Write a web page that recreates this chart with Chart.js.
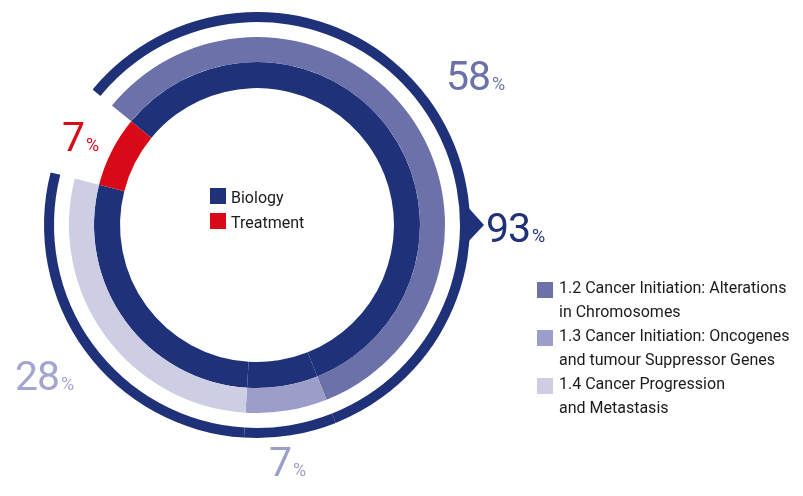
<!DOCTYPE html>
<html>
<head>
<meta charset="utf-8">
<script src="https://cdn.jsdelivr.net/npm/chart.js@4.4.1/dist/chart.umd.min.js"></script>
<style>
  html, body { margin: 0; padding: 0; background: #fff; }
  body { width: 803px; height: 496px; position: relative; overflow: hidden; font-family: Roboto, "Noto Sans", sans-serif; }
  #wrap { position: absolute; left: 0; top: 0; width: 803px; height: 496px; }
  .pct { position: absolute; font-weight: 400; font-size: 41px; line-height: 1; white-space: nowrap; letter-spacing: -1px; }
  .pct small { font-size: 18px; font-weight: 400; letter-spacing: 0; margin-left: 2px; }
  .leg { position: absolute; font-size: 16px; color: #1a1a1a; }
  .leg .row { position: relative; padding-left: 21px; height: 25px; line-height: 25px; }
  .leg .sw { position: absolute; left: 0; top: 3px; width: 16px; height: 16px; }
  .rleg { position: absolute; left: 537px; top: 276px; font-size: 16px; color: #1a1a1a; }
  .rleg .item { position: relative; padding-left: 22px; line-height: 24px; }
  .rleg .sw { position: absolute; left: 0; top: 6px; width: 16px; height: 16px; }
</style>
</head>
<body>
<div id="wrap"><canvas id="chart" width="803" height="496"></canvas></div>
<div id="labels"></div>
<div class="leg" id="centerLegend" style="left:210px; top:185px;"></div>
<div class="rleg" id="sideLegend"></div>
<script>
// topics of the biology share, clockwise from the top-left
const topics = ['1.2 Cancer Initiation: Alterations in Chromosomes',
  '1.3 Cancer Initiation: Oncogenes and tumour Suppressor Genes',
  '1.4 Cancer Progression and Metastasis'];
const topicLines = [['1.2 Cancer Initiation: Alterations', 'in Chromosomes'],
  ['1.3 Cancer Initiation: Oncogenes', 'and tumour Suppressor Genes'],
  ['1.4 Cancer Progression', 'and Metastasis']];
const topicValues = [58, 7, 28];
const groups = ['Biology', 'Treatment'];
const groupValues = [93, 7];

const navy = '#1f3179';
const red = '#d90a17';
const topicColors = ['#6c71aa', '#9c9ec9', '#cdcee3'];
const topicLabelColors = ['#6c71aa', '#9c9ec9', '#a3a5cf'];

// ring values: three topics plus the treatment part
const ringValues = topicValues.concat([groupValues[1]]);

// small arrow on the outer ring pointing to the 93% label
const arrowPlugin = {
  id: 'arrow',
  afterDatasetsDraw(chart) {
    const arc = chart.getDatasetMeta(0).data[0];
    const ctx = chart.ctx;
    const r = arc.outerRadius;
    ctx.save();
    ctx.fillStyle = navy;
    ctx.beginPath();
    ctx.moveTo(arc.x + r - 4, arc.y - 20);
    ctx.lineTo(arc.x + r + 14, arc.y);
    ctx.lineTo(arc.x + r - 4, arc.y + 19);
    ctx.closePath();
    ctx.fill();
    ctx.restore();
  }
};

const config = {
  type: 'doughnut',
  data: {
    labels: topics.concat(['Treatment']),
    datasets: [
      { data: ringValues, backgroundColor: [navy, navy, navy, 'rgba(0,0,0,0)'], weight: 10, borderWidth: 0 },
      { data: [100], backgroundColor: ['rgba(0,0,0,0)'], weight: 15, borderWidth: 0 },
      { data: ringValues, backgroundColor: topicColors.concat(['rgba(0,0,0,0)']), weight: 25, borderWidth: 0 },
      { data: ringValues, backgroundColor: [navy, navy, navy, red], weight: 26, borderWidth: 0 }
    ]
  },
  options: {
    responsive: false,
    animation: false,
    rotation: -50.5,
    radius: 213,
    cutout: '64.3%',
    layout: { padding: { left: 44, top: 12, right: 333, bottom: 58 } },
    plugins: { legend: { display: false }, tooltip: { enabled: false } }
  },
  plugins: [arrowPlugin]
};

var myChart = new Chart(document.getElementById('chart').getContext('2d'), config);

// percentage labels
const labelSpots = [
  { text: topicValues[0], color: topicLabelColors[0], left: 446, top: 56 },
  { text: topicValues[1], color: topicLabelColors[1], left: 269, top: 442 },
  { text: topicValues[2], color: topicLabelColors[2], left: 15, top: 356 },
  { text: groupValues[0], color: navy, left: 486, top: 208 },
  { text: groupValues[1], color: red, left: 62, top: 117 }
];
let html = '';
labelSpots.forEach((s) => {
  html += '<div class="pct" style="left:' + s.left + 'px;top:' + s.top + 'px;color:' + s.color + '">' + s.text + '<small>%</small></div>';
});
document.getElementById('labels').innerHTML = html;

// legends
let c = '';
groups.forEach((g, i) => {
  c += '<div class="row"><span class="sw" style="background:' + (i == 0 ? navy : red) + '"></span>' + g + '</div>';
});
document.getElementById('centerLegend').innerHTML = c;

let s = '';
topicLines.forEach((lines, i) => {
  s += '<div class="item"><span class="sw" style="background:' + topicColors[i] + '"></span>' + lines.join('<br>') + '</div>';
});
document.getElementById('sideLegend').innerHTML = s;
</script>
</body>
</html>
